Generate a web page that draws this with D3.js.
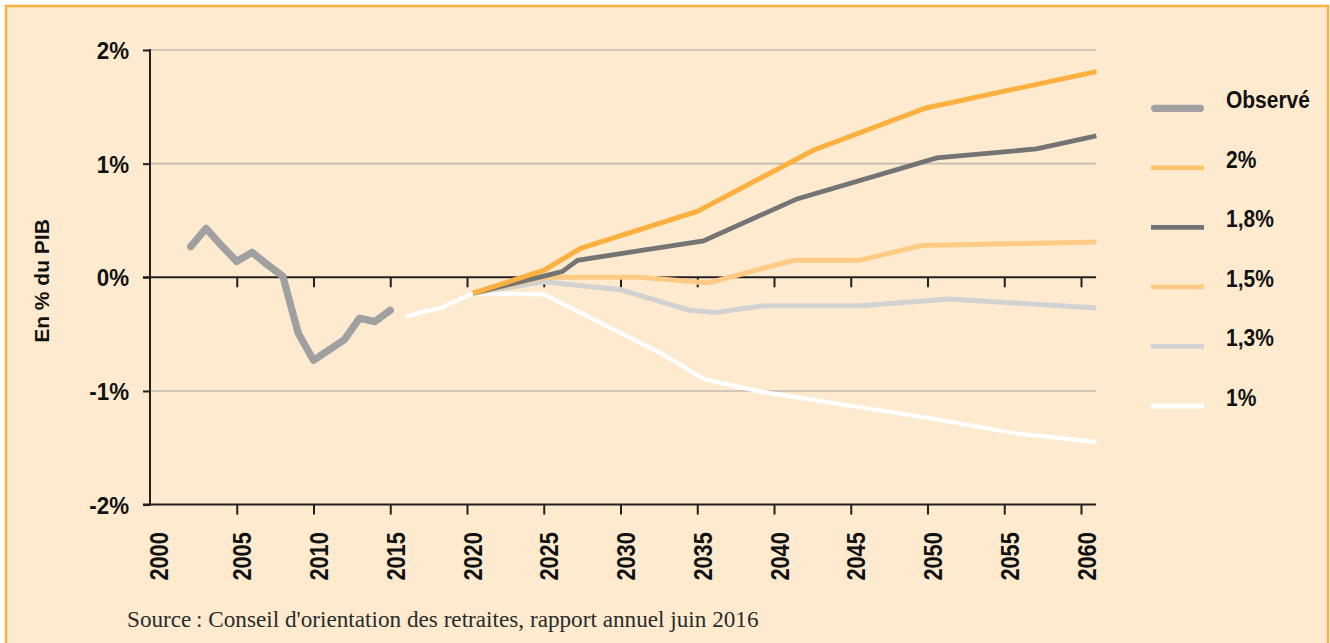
<!DOCTYPE html>
<html>
<head>
<meta charset="utf-8">
<script src="https://cdn.jsdelivr.net/npm/d3@7"></script>
<style>
  html, body { margin: 0; padding: 0; background: #ffffff; }
  svg { display: block; }
  .cond { font-family: "Liberation Sans", Arial, Helvetica, sans-serif; font-weight: bold; }
</style>
</head>
<body>
<svg id="chart" width="1330" height="643"></svg>
<script>
// ---------------- DATA ----------------
const xTickYears = [2000, 2005, 2010, 2015, 2020, 2025, 2030, 2035, 2040, 2045, 2050, 2055, 2060];
const yTickValues = [-2, -1, 0, 1, 2];
const yTickLabels = ["-2%", "-1%", "0%", "1%", "2%"];

const observedYears  = [2002, 2003, 2004, 2005, 2006, 2007, 2008, 2009, 2010, 2011, 2012, 2013, 2014, 2015];
const observedValues = [0.27, 0.43, 0.28, 0.14, 0.22, 0.11, 0.01, -0.49, -0.73, -0.64, -0.55, -0.36, -0.39, -0.29];

const s1Years  = [2016, 2017.2, 2018.3, 2020.4, 2025, 2032.8, 2035.5, 2039.3, 2050.2, 2055.6, 2061];
const s1Values = [-0.35, -0.30, -0.27, -0.14, -0.15, -0.68, -0.90, -1.01, -1.24, -1.37, -1.45];

const s13Years  = [2020.4, 2025, 2030, 2034.5, 2036.2, 2039.3, 2045.7, 2051.4, 2054.9, 2061];
const s13Values = [-0.14, -0.04, -0.11, -0.29, -0.31, -0.25, -0.25, -0.19, -0.22, -0.27];

const s15Years  = [2020.4, 2025, 2031.3, 2035.7, 2041.3, 2045.6, 2049.6, 2061];
const s15Values = [-0.14, 0.0, 0.0, -0.05, 0.15, 0.15, 0.28, 0.31];

const s18Years  = [2020.4, 2025, 2026.2, 2027.2, 2035.4, 2041.5, 2050.6, 2057.1, 2061];
const s18Values = [-0.14, 0.01, 0.05, 0.15, 0.32, 0.69, 1.05, 1.13, 1.245];

const s2Years  = [2020.4, 2025, 2027.4, 2035, 2042.6, 2049.9, 2061];
const s2Values = [-0.14, 0.06, 0.255, 0.58, 1.12, 1.49, 1.81];

const legendLabels = ["Observé", "2%", "1,8%", "1,5%", "1,3%", "1%"];

const yAxisTitle = "En % du PIB";
const sourceText = "Source\u2009: Conseil d'orientation des retraites, rapport annuel juin 2016";

// ---------------- LAYOUT ----------------
const svg = d3.select("#chart");
const W = 1330, H = 643;
const plotLeft = 150, plotRight = 1096;

const x = d3.scaleLinear().domain([2000, 2060]).range([160, 1081]);
const y = d3.scaleLinear().domain([-2, 2]).range([504.6, 50]);

// background + border
svg.append("rect").attr("x", 0).attr("y", 0).attr("width", W).attr("height", H).attr("fill", "#ffffff");
svg.append("rect").attr("x", 6).attr("y", 6).attr("width", 1322).attr("height", 680)
  .attr("fill", "#feebcf").attr("stroke", "#fbb040").attr("stroke-width", 2.5);

// gridlines
svg.append("g").selectAll("line").data(yTickValues.filter(v => v !== 0 && v !== -2)).join("line")
  .attr("x1", plotLeft).attr("x2", plotRight)
  .attr("y1", d => y(d)).attr("y2", d => y(d))
  .attr("stroke", "#c2bbb0").attr("stroke-width", 1.6);

// y axis
const yAxis = d3.axisLeft(y).tickValues(yTickValues).tickSize(7).tickPadding(14)
  .tickFormat((d, i) => yTickLabels[i]);
const gy = svg.append("g").attr("transform", `translate(${plotLeft},0)`).call(yAxis);
gy.select(".domain").remove();
gy.selectAll(".tick line").attr("stroke", "#231f20").attr("stroke-width", 2);
gy.selectAll(".tick text").attr("class", "cond").attr("font-size", 24).attr("fill", "#111")
  .attr("dy", "0.36em").attr("x", 0).attr("text-anchor", "end")
  .attr("transform", "translate(-21,0) scale(0.93,1)");
svg.append("line").attr("x1", plotLeft).attr("x2", plotLeft).attr("y1", y(2) - 1).attr("y2", y(-2) + 1)
  .attr("stroke", "#231f20").attr("stroke-width", 2);

// zero line with ticks
const zeroAxis = d3.axisBottom(x).tickValues(xTickYears.filter(d => d !== 2000)).tickSize(10).tickSizeOuter(0).tickFormat("");
const gz = svg.append("g").attr("transform", `translate(0,${y(0)})`).call(zeroAxis);
gz.select(".domain").remove();
gz.selectAll(".tick line").attr("stroke", "#231f20").attr("stroke-width", 2);
svg.append("line").attr("x1", plotLeft - 7).attr("x2", plotRight).attr("y1", y(0)).attr("y2", y(0))
  .attr("stroke", "#231f20").attr("stroke-width", 2);

// bottom axis
const xAxis = d3.axisBottom(x).tickValues(xTickYears).tickSize(10).tickSizeOuter(0).tickFormat(d3.format("d"));
const gx = svg.append("g").attr("transform", `translate(0,${y(-2)})`).call(xAxis);
gx.select(".domain").remove();
gx.selectAll(".tick line").attr("stroke", "#231f20").attr("stroke-width", 2)
  .attr("opacity", d => d === 2000 ? 0 : 1);
gx.selectAll(".tick text")
  .attr("class", "cond").attr("font-size", 26.5).attr("fill", "#111")
  .attr("x", 0).attr("y", 0).attr("dy", "0.36em")
  .attr("text-anchor", "start")
  .attr("transform", d => `translate(${d === 2000 ? -2.5 : 4.5},76) rotate(-90) scale(0.82,1)`);
svg.append("line").attr("x1", plotLeft - 7).attr("x2", plotRight).attr("y1", y(-2)).attr("y2", y(-2))
  .attr("stroke", "#231f20").attr("stroke-width", 2);

// y axis title
svg.append("text").attr("transform", "translate(41,281) rotate(-90)")
  .attr("text-anchor", "middle").attr("dy", "0.36em")
  .attr("font-family", "Liberation Sans, Arial, sans-serif").attr("font-weight", "bold")
  .attr("font-size", 21).attr("fill", "#111").text(yAxisTitle);

// ---------------- SERIES ----------------
const line = d3.line().x(d => x(d[0])).y(d => y(d[1]));
const zip = (a, b) => a.map((v, i) => [v, b[i]]);

const series = [
  { years: s1Years,  values: s1Values,  color: "#ffffff", width: 4.2, legend: "#ffffff" },
  { years: s13Years, values: s13Values, color: "#d2d2d2", width: 5,   legend: "#d2d2d2" },
  { years: s15Years, values: s15Values, color: "#fecb86", width: 5,   legend: "#fecb86" },
  { years: s18Years, values: s18Values, color: "#747474", width: 4.8, legend: "#747474" },
  { years: s2Years,  values: s2Values,  color: "#fbb040", width: 5,   legend: "#fdc36f" }
];

const gl = svg.append("g");
series.forEach(s => {
  gl.append("path").datum(zip(s.years, s.values)).attr("d", line)
    .attr("fill", "none").attr("stroke", s.color).attr("stroke-width", s.width)
    .attr("stroke-linejoin", "miter");
});
gl.append("path").datum(zip(observedYears, observedValues)).attr("d", line)
  .attr("fill", "none").attr("stroke", "#a0a0a0").attr("stroke-width", 7.3)
  .attr("stroke-linecap", "round").attr("stroke-linejoin", "round");

// ---------------- LEGEND ----------------
const legendStyles = [
  { color: "#a0a0a0", width: 7.3, cap: "round" },
  { color: series[4].legend, width: 4.8, cap: "butt" },
  { color: series[3].legend, width: 4.8, cap: "butt" },
  { color: series[2].legend, width: 4.8, cap: "butt" },
  { color: series[1].legend, width: 4.8, cap: "butt" },
  { color: series[0].legend, width: 4.8, cap: "butt" }
];
const legendY = d3.scaleLinear().domain([0, 5]).range([108.3, 406]);
const lg = svg.append("g");
legendLabels.forEach((lab, i) => {
  const st = legendStyles[i];
  const yy = legendY(i);
  const inset = st.cap === "round" ? st.width / 2 : 0;
  lg.append("line").attr("x1", 1151 + inset).attr("x2", 1204 - inset).attr("y1", yy).attr("y2", yy)
    .attr("stroke", st.color).attr("stroke-width", st.width).attr("stroke-linecap", st.cap);
  lg.append("text").attr("class", "cond")
    .attr("transform", `translate(1226,${yy}) scale(0.9,1)`)
    .attr("font-size", 23.3).attr("fill", "#111").text(lab);
});

// source
svg.append("text").attr("x", 127).attr("y", 626.5)
  .attr("font-family", "Liberation Serif, 'Times New Roman', serif")
  .attr("font-size", 23.2).attr("fill", "#2a2a2a").text(sourceText);
</script>
</body>
</html>
